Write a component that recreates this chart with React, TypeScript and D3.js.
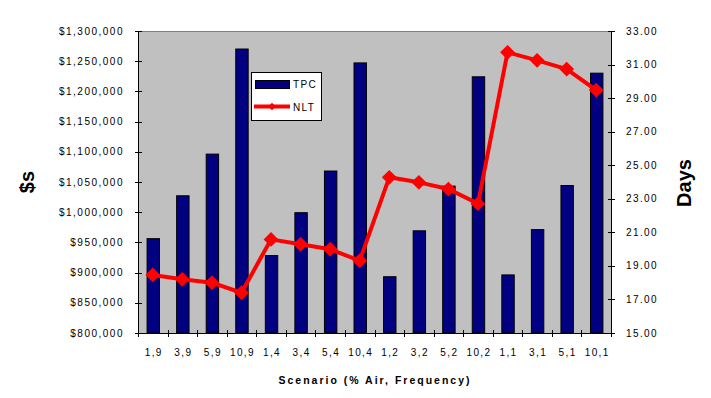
import React, { useEffect, useRef } from "react";
import * as d3 from "d3";

const scenarios = ["1,9", "3,9", "5,9", "10,9", "1,4", "3,4", "5,4", "10,4", "1,2", "3,2", "5,2", "10,2", "1,1", "3,1", "5,1", "10,1"];
const tpc = [957000, 1028000, 1097000, 1271000, 929000, 1000000, 1069000, 1248000, 894000, 970000, 1044000, 1225000, 897000, 972000, 1045000, 1231000];
const nlt = [18.46, 18.2, 18.0, 17.4, 20.58, 20.29, 19.99, 19.31, 24.28, 23.98, 23.58, 22.71, 31.73, 31.25, 30.73, 29.48];
const leftTicks = d3.range(800000, 1300001, 50000);
const rightTicks = d3.range(15, 33.01, 2);

export default function App() {
  const ref = useRef<SVGSVGElement>(null);

  useEffect(() => {
    const svg = d3.select(ref.current);
    svg.selectAll("*").remove();

    const width = 711;
    const height = 398;
    const margin = { top: 31, right: 100, bottom: 65, left: 138 };
    const font = "'Liberation Sans', Arial, sans-serif";

    const x = d3
      .scaleBand()
      .domain(scenarios)
      .range([margin.left, width - margin.right])
      .paddingInner(0.58)
      .paddingOuter(0.29);
    const xb = d3.scaleBand().domain(scenarios).range([margin.left, width - margin.right]);

    const y = d3.scaleLinear().domain([800000, 1300000]).range([height - margin.bottom, margin.top]);
    const y2 = d3.scaleLinear().domain([15, 33]).range([height - margin.bottom, margin.top]);

    const x0 = margin.left;
    const x1 = width - margin.right;
    const yb = height - margin.bottom;

    svg.attr("width", width).attr("height", height);
    svg.append("rect").attr("width", width).attr("height", height).attr("fill", "#fff");

    // plot area
    svg.append("rect").attr("x", x0).attr("y", margin.top).attr("width", x1 - x0).attr("height", yb - margin.top).attr("fill", "#c0c0c0");
    svg.append("line").attr("x1", x0).attr("x2", x1).attr("y1", margin.top + 0.5).attr("y2", margin.top + 0.5).attr("stroke", "#808080");

    // bars
    svg
      .append("g")
      .selectAll("rect")
      .data(tpc)
      .join("rect")
      .attr("x", (d, i) => x(scenarios[i])! + 0.5)
      .attr("y", (d) => y(d) + 0.5)
      .attr("width", x.bandwidth())
      .attr("height", (d) => yb - y(d) - 0.5)
      .attr("fill", "#000080")
      .attr("stroke", "#000")
      .attr("stroke-width", 1);

    // axes lines
    const axes = svg.append("g").attr("stroke", "#000").attr("stroke-width", 1);
    axes.append("line").attr("x1", x0 + 0.5).attr("x2", x0 + 0.5).attr("y1", margin.top).attr("y2", yb + 4);
    axes.append("line").attr("x1", x1 + 0.5).attr("x2", x1 + 0.5).attr("y1", margin.top).attr("y2", yb + 4);
    axes.append("line").attr("x1", x0 - 3).attr("x2", x1 + 4).attr("y1", yb + 0.5).attr("y2", yb + 0.5);

    leftTicks.forEach((t) => {
      const ty = Math.round(y(t)) + 0.5;
      axes.append("line").attr("x1", x0 - 3).attr("x2", x0 + 4).attr("y1", ty).attr("y2", ty);
    });
    rightTicks.forEach((t) => {
      const ty = Math.round(y2(t)) + 0.5;
      axes.append("line").attr("x1", x1 - 3).attr("x2", x1 + 4).attr("y1", ty).attr("y2", ty);
    });
    scenarios.forEach((s) => {
      const tx = Math.round(xb(s)!) + 0.5;
      axes.append("line").attr("x1", tx).attr("x2", tx).attr("y1", yb - 3).attr("y2", yb + 4);
    });

    // labels
    const fmt = d3.format(",");
    svg
      .append("g")
      .selectAll("text")
      .data(leftTicks)
      .join("text")
      .attr("x", 124)
      .attr("y", (d) => y(d))
      .attr("dy", "0.35em")
      .attr("text-anchor", "end")
      .attr("font-family", font)
      .attr("font-size", 10)
      .attr("letter-spacing", 1.5)
      .text((d) => `$${fmt(d)}`);

    svg
      .append("g")
      .selectAll("text")
      .data(rightTicks)
      .join("text")
      .attr("x", 626)
      .attr("y", (d) => y2(d))
      .attr("dy", "0.35em")
      .attr("font-family", font)
      .attr("font-size", 10)
      .attr("letter-spacing", 1.4)
      .text((d) => d.toFixed(2));

    svg
      .append("g")
      .selectAll("text")
      .data(scenarios)
      .join("text")
      .attr("x", (d) => xb(d)! + xb.bandwidth() / 2 + 1)
      .attr("y", 356)
      .attr("text-anchor", "middle")
      .attr("font-family", font)
      .attr("font-size", 10)
      .attr("letter-spacing", 1.4)
      .text((d) => d);

    svg
      .append("text")
      .attr("x", 375)
      .attr("y", 384)
      .attr("text-anchor", "middle")
      .attr("font-family", font)
      .attr("font-size", 10.5)
      .attr("font-weight", "bold")
      .attr("letter-spacing", 2)
      .text("Scenario (% Air, Frequency)");

    svg
      .append("text")
      .attr("transform", "translate(34,182) rotate(-90)")
      .attr("text-anchor", "middle")
      .attr("font-family", font)
      .attr("font-size", 20)
      .attr("font-weight", "bold")
      .text("$s");

    svg
      .append("text")
      .attr("transform", "translate(691,183) rotate(-90)")
      .attr("text-anchor", "middle")
      .attr("font-family", font)
      .attr("font-size", 20)
      .attr("font-weight", "bold")
      .text("Days");

    // NLT line
    const cx = (i: number) => xb(scenarios[i])! + xb.bandwidth() / 2;
    const line = d3
      .line<number>()
      .x((d, i) => cx(i))
      .y((d) => y2(d));
    svg
      .append("path")
      .datum(nlt)
      .attr("d", line)
      .attr("fill", "none")
      .attr("stroke", "#ff0000")
      .attr("stroke-width", 4)
      .attr("stroke-linejoin", "round");

    const diamond = d3.symbol().type(d3.symbolDiamond2).size(150);
    svg
      .append("g")
      .selectAll("path")
      .data(nlt)
      .join("path")
      .attr("transform", (d, i) => `translate(${cx(i)},${y2(d)}) rotate(45)`)
      .attr("d", d3.symbol().type(d3.symbolSquare).size(110)()!)
      .attr("fill", "#ff0000");
    void diamond;

    // legend
    const lg = svg.append("g");
    lg.append("rect").attr("x", 251.5).attr("y", 72.5).attr("width", 70).attr("height", 48).attr("fill", "#fff").attr("stroke", "#000");
    lg.append("rect").attr("x", 255.5).attr("y", 80.5).attr("width", 34).attr("height", 8).attr("fill", "#000080").attr("stroke", "#000");
    lg.append("text").attr("x", 293).attr("y", 88).attr("font-family", font).attr("font-size", 10).attr("letter-spacing", 1.4).text("TPC");
    lg.append("line").attr("x1", 254).attr("x2", 290).attr("y1", 106.5).attr("y2", 106.5).attr("stroke", "#ff0000").attr("stroke-width", 4);
    lg.append("path").attr("transform", "translate(272,106.5) rotate(45)").attr("d", d3.symbol().type(d3.symbolSquare).size(30)()!).attr("fill", "#ff0000");
    lg.append("text").attr("x", 293).attr("y", 111).attr("font-family", font).attr("font-size", 10).attr("letter-spacing", 1.4).text("NLT");
  }, []);

  return <svg ref={ref} style={{ position: "absolute", left: 0, top: 0 }}></svg>;
}
